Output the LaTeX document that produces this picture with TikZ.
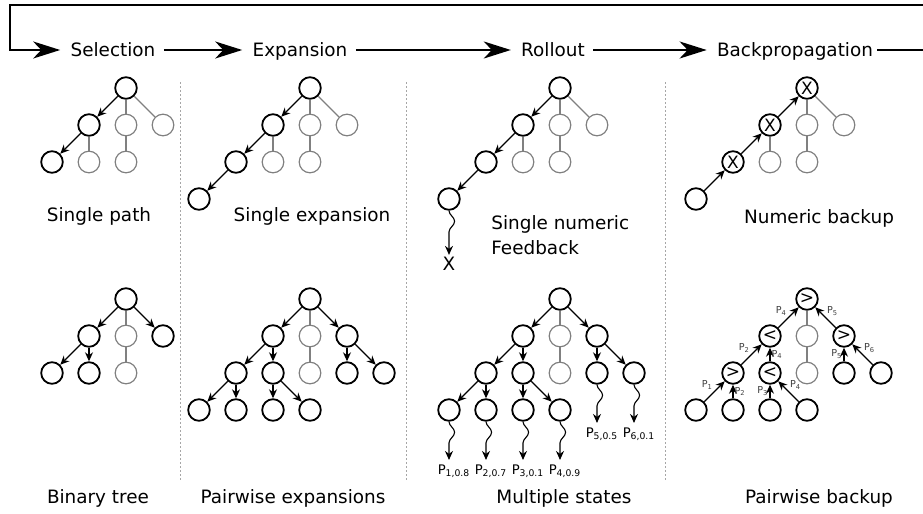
\documentclass[tikz,border=0pt]{standalone}
\usepackage{fontspec}
\setmainfont{DejaVu Sans}
\usetikzlibrary{arrows.meta,decorations.pathmorphing,calc}

\begin{document}
\begin{tikzpicture}[x=0.5pt,y=-0.5pt,
    nd/.style={circle,draw,line width=0.9pt,minimum size=10.8pt,inner sep=0pt,font=\fontsize{8.5}{9}\selectfont},
    gnd/.style={nd,draw=gray,line width=0.6pt},
    arr/.style={-{Stealth[length=4.5pt,width=4pt]},line width=0.55pt},
    gedge/.style={draw=gray,line width=0.6pt},
    wave/.style={arr,decorate,decoration={snake,amplitude=2.8pt,segment length=17pt,post length=3pt}},
    flow/.style={-{Stealth[length=13.5pt,width=8.5pt,inset=4pt]},line width=1pt},
    stagetxt/.style={font=\fontsize{9.2}{11}\selectfont,inner sep=1pt,text height=1.5ex,text depth=0.25ex},
    capt/.style={font=\fontsize{9.2}{12.5}\selectfont,inner sep=0pt},
    plab/.style={font=\fontsize{6.6}{7}\selectfont,inner sep=2pt,anchor=base},
    elab/.style={font=\fontsize{4.8}{5}\selectfont,text=darkgray,inner sep=0.5pt},
    divider/.style={gray!70,line width=0.5pt,dash pattern=on 1pt off 1pt}]
\useasboundingbox (0,0) rectangle (923,514);

\node[stagetxt] (sel)  at (113,50) {Selection};
\node[stagetxt] (exp)  at (300,50) {Expansion};
\node[stagetxt] (rol)  at (553,50) {Rollout};
\node[stagetxt] (back) at (795,50) {Backpropagation};
\coordinate (loopR) at (925,5);
\coordinate (loopL) at (10,5);
\draw[flow,shorten <=3pt,shorten >=4pt] (sel) -- (exp);
\draw[flow,shorten <=3pt,shorten >=4pt] (exp) -- (rol);
\draw[flow,shorten <=3pt,shorten >=4pt] (rol) -- (back);
\draw[flow,shorten <=1pt,shorten >=4pt] (back.east) -| (loopR) -- (loopL) |- (sel.west);

\draw[divider] (180,82) -- (180,482);
\draw[divider] (406,82) -- (406,482);
\draw[divider] (665,82) -- (665,482);

\node[nd]  (sp1) at (126,88) {};
\node[nd]  (sp2) at (89,125) {};
\node[gnd] (sp3) at (126,125) {};
\node[gnd] (sp4) at (163,125) {};
\node[nd]  (sp5) at (52,162) {};
\node[gnd] (sp6) at (89,162) {};
\node[gnd] (sp7) at (126,162) {};
\draw[arr] (sp1) -- (sp2);
\draw[arr] (sp2) -- (sp5);
\draw[gedge] (sp1) -- (sp3);
\draw[gedge] (sp1) -- (sp4);
\draw[gedge] (sp2) -- (sp6);
\draw[gedge] (sp3) -- (sp7);
\node[capt] (spt) at (99,216) {Single path};

\node[nd]  (se1) at (310,88) {};
\node[nd]  (se2) at (273,125) {};
\node[gnd] (se3) at (310,125) {};
\node[gnd] (se4) at (347,125) {};
\node[nd]  (se5) at (236,162) {};
\node[gnd] (se6) at (273,162) {};
\node[gnd] (se7) at (310,162) {};
\node[nd]  (se8) at (199,199) {};
\draw[arr] (se1) -- (se2);
\draw[arr] (se2) -- (se5);
\draw[arr] (se5) -- (se8);
\draw[gedge] (se1) -- (se3);
\draw[gedge] (se1) -- (se4);
\draw[gedge] (se2) -- (se6);
\draw[gedge] (se3) -- (se7);
\node[capt] (set) at (312,216) {Single expansion};

\node[nd]  (sn1) at (560,88) {};
\node[nd]  (sn2) at (523,125) {};
\node[gnd] (sn3) at (560,125) {};
\node[gnd] (sn4) at (597,125) {};
\node[nd]  (sn5) at (486,162) {};
\node[gnd] (sn6) at (523,162) {};
\node[gnd] (sn7) at (560,162) {};
\node[nd]  (sn8) at (449,199) {};
\node[capt,inner sep=1pt] (snx) at (449,264) {X};
\draw[arr] (sn1) -- (sn2);
\draw[arr] (sn2) -- (sn5);
\draw[arr] (sn5) -- (sn8);
\draw[wave] (sn8) -- (snx);
\draw[gedge] (sn1) -- (sn3);
\draw[gedge] (sn1) -- (sn4);
\draw[gedge] (sn2) -- (sn6);
\draw[gedge] (sn3) -- (sn7);
\node[capt,align=left,anchor=west] (snt) at (491,235) {Single numeric\\Feedback};

\node[nd]  (nb1) at (807,88) {X};
\node[nd]  (nb2) at (770,125) {X};
\node[gnd] (nb3) at (807,125) {};
\node[gnd] (nb4) at (844,125) {};
\node[nd]  (nb5) at (733,162) {X};
\node[gnd] (nb6) at (770,162) {};
\node[gnd] (nb7) at (807,162) {};
\node[nd]  (nb8) at (696,199) {};
\draw[arr] (nb8) -- (nb5);
\draw[arr] (nb5) -- (nb2);
\draw[arr] (nb2) -- (nb1);
\draw[gedge] (nb1) -- (nb3);
\draw[gedge] (nb1) -- (nb4);
\draw[gedge] (nb2) -- (nb6);
\draw[gedge] (nb3) -- (nb7);
\node[capt] (nbt) at (819,218) {Numeric backup};

\node[nd]  (bt1) at (126,299) {};
\node[nd]  (bt2) at (89,336) {};
\node[gnd] (bt3) at (126,336) {};
\node[nd]  (bt4) at (163,336) {};
\node[nd]  (bt5) at (52,373) {};
\node[nd]  (bt6) at (89,373) {};
\node[gnd] (bt7) at (126,373) {};
\draw[arr] (bt1) -- (bt2);
\draw[arr] (bt1) -- (bt4);
\draw[arr] (bt2) -- (bt5);
\draw[arr] (bt2) -- (bt6);
\draw[gedge] (bt1) -- (bt3);
\draw[gedge] (bt3) -- (bt7);
\node[capt] (btt) at (98,498) {Binary tree};

\node[nd]  (pe1)  at (310,299) {};
\node[nd]  (pe2)  at (273,336) {};
\node[gnd] (pe3)  at (310,336) {};
\node[nd]  (pe4)  at (347,336) {};
\node[nd]  (pe5)  at (236,373) {};
\node[nd]  (pe6)  at (273,373) {};
\node[gnd] (pe7)  at (310,373) {};
\node[nd]  (pe8)  at (347,373) {};
\node[nd]  (pe9)  at (384,373) {};
\node[nd]  (pe10) at (199,410) {};
\node[nd]  (pe11) at (236,410) {};
\node[nd]  (pe12) at (273,410) {};
\node[nd]  (pe13) at (310,410) {};
\draw[arr] (pe1) -- (pe2);
\draw[arr] (pe1) -- (pe4);
\draw[arr] (pe2) -- (pe5);
\draw[arr] (pe2) -- (pe6);
\draw[arr] (pe4) -- (pe8);
\draw[arr] (pe4) -- (pe9);
\draw[arr] (pe5) -- (pe10);
\draw[arr] (pe5) -- (pe11);
\draw[arr] (pe6) -- (pe12);
\draw[arr] (pe6) -- (pe13);
\draw[gedge] (pe1) -- (pe3);
\draw[gedge] (pe3) -- (pe7);
\node[capt] (pet) at (293,498) {Pairwise expansions};

\node[nd]  (ms1)  at (560,299) {};
\node[nd]  (ms2)  at (523,336) {};
\node[gnd] (ms3)  at (560,336) {};
\node[nd]  (ms4)  at (597,336) {};
\node[nd]  (ms5)  at (486,373) {};
\node[nd]  (ms6)  at (523,373) {};
\node[gnd] (ms7)  at (560,373) {};
\node[nd]  (ms8)  at (597,373) {};
\node[nd]  (ms9)  at (634,373) {};
\node[nd]  (ms10) at (449,410) {};
\node[nd]  (ms11) at (486,410) {};
\node[nd]  (ms12) at (523,410) {};
\node[nd]  (ms13) at (560,410) {};
\node[plab] (p1) at (454,474) {P\textsubscript{1,0.8}};
\node[plab] (p2) at (491,474) {P\textsubscript{2,0.7}};
\node[plab] (p3) at (528,474) {P\textsubscript{3,0.1}};
\node[plab] (p4) at (565,474) {P\textsubscript{4,0.9}};
\node[plab] (p5) at (602,437) {P\textsubscript{5,0.5}};
\node[plab] (p6) at (639,437) {P\textsubscript{6,0.1}};
\draw[arr] (ms1) -- (ms2);
\draw[arr] (ms1) -- (ms4);
\draw[arr] (ms2) -- (ms5);
\draw[arr] (ms2) -- (ms6);
\draw[arr] (ms4) -- (ms8);
\draw[arr] (ms4) -- (ms9);
\draw[arr] (ms5) -- (ms10);
\draw[arr] (ms5) -- (ms11);
\draw[arr] (ms6) -- (ms12);
\draw[arr] (ms6) -- (ms13);
\draw[gedge] (ms1) -- (ms3);
\draw[gedge] (ms3) -- (ms7);
\draw[wave] (ms10) -- (p1.north -| ms10);
\draw[wave] (ms11) -- (p2.north -| ms11);
\draw[wave] (ms12) -- (p3.north -| ms12);
\draw[wave] (ms13) -- (p4.north -| ms13);
\draw[wave] (ms8) -- (p5.north -| ms8);
\draw[wave] (ms9) -- (p6.north -| ms9);
\node[capt] (mst) at (564,498) {Multiple states};

\node[nd]  (pb1)  at (807,299) {>};
\node[nd]  (pb2)  at (770,336) {<};
\node[gnd] (pb3)  at (807,336) {};
\node[nd]  (pb4)  at (844,336) {>};
\node[nd]  (pb5)  at (733,373) {>};
\node[nd]  (pb6)  at (770,373) {<};
\node[gnd] (pb7)  at (807,373) {};
\node[nd]  (pb8)  at (844,373) {};
\node[nd]  (pb9)  at (881,373) {};
\node[nd]  (pb10) at (696,410) {};
\node[nd]  (pb11) at (733,410) {};
\node[nd]  (pb12) at (770,410) {};
\node[nd]  (pb13) at (807,410) {};
\draw[arr] (pb10) -- node[elab,anchor=south east] (l1) {P\textsubscript{1}} (pb5);
\draw[arr] (pb11) -- node[elab,anchor=west] (l2) {P\textsubscript{2}} (pb5);
\draw[arr] (pb12) -- node[elab,anchor=east] (l3) {P\textsubscript{3}} (pb6);
\draw[arr] (pb13) -- node[elab,anchor=south west] (l4) {P\textsubscript{4}} (pb6);
\draw[arr] (pb5) -- node[elab,anchor=south east] (l5) {P\textsubscript{2}} (pb2);
\draw[arr] (pb6) -- node[elab,anchor=west] (l6) {P\textsubscript{4}} (pb2);
\draw[arr] (pb8) -- node[elab,anchor=east] (l7) {P\textsubscript{5}} (pb4);
\draw[arr] (pb9) -- node[elab,anchor=south west] (l8) {P\textsubscript{6}} (pb4);
\draw[arr] (pb2) -- node[elab,anchor=south east] (l9) {P\textsubscript{4}} (pb1);
\draw[arr] (pb4) -- node[elab,anchor=south west] (l10) {P\textsubscript{5}} (pb1);
\draw[gedge] (pb1) -- (pb3);
\draw[gedge] (pb3) -- (pb7);
\node[capt] (pbt) at (819,498) {Pairwise backup};
\end{tikzpicture}
\end{document}
